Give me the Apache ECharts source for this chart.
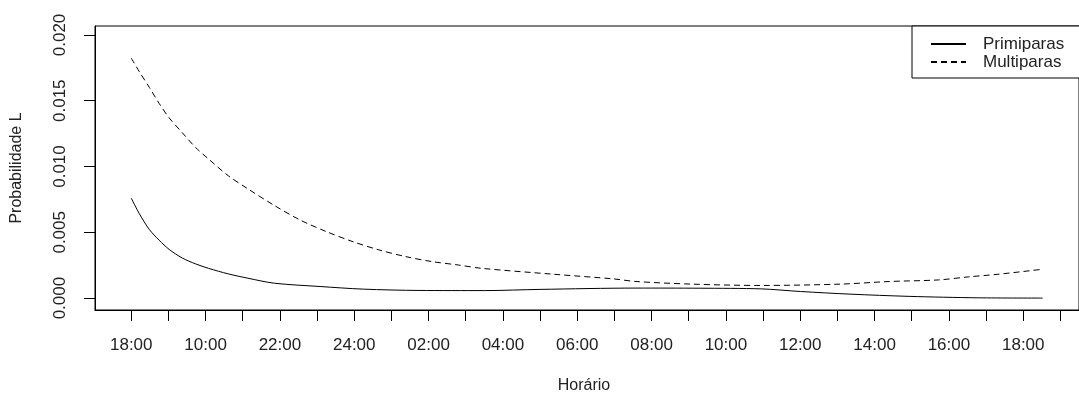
<!DOCTYPE html>
<html>
<head>
<meta charset="utf-8">
<script src="https://cdn.jsdelivr.net/npm/echarts@6/dist/echarts.min.js"></script>
<style>
html,body{margin:0;padding:0;background:#fff;}
#chart{width:1079px;height:399px;}
</style>
</head>
<body>
<div id="chart"></div>
<script>
// x positions are in "tick units" along the time axis (one tick per unit)
var timeLabels = ['18:00','10:00','22:00','24:00','02:00','04:00','06:00','08:00','10:00','12:00','14:00','16:00','18:00'];
var tickPositions = [0,1,2,3,4,5,6,7,8,9,10,11,12,13,14,15,16,17,18,19,20,21,22,23,24,25];
var labelPositions = [0,2,4,6,8,10,12,14,16,18,20,22,24];
var yTicks = [0, 0.005, 0.010, 0.015, 0.020];

var primX = [0, 0.22, 0.49, 0.75, 1.02, 1.37, 1.73, 2.08, 2.61, 3.14, 3.85, 5.08, 6.24, 7.74, 9.51, 11.0, 13.58, 15.30, 16.95, 18.01, 19.34, 20.93, 22.79, 24.52];
var primY = [0.0076, 0.0064, 0.0052, 0.0044, 0.0037, 0.00305, 0.0026, 0.00226, 0.00184, 0.00151, 0.00113, 0.00088, 0.00068, 0.00058, 0.00057, 0.00066, 0.00076, 0.00075, 0.0007, 0.0005, 0.0003, 0.00013, 0.00002, 0.0];

var multX = [0, 0.22, 0.49, 0.75, 1.02, 1.37, 1.73, 2.08, 2.61, 3.14, 3.85, 4.56, 5.27, 5.97, 6.68, 7.39, 8.10, 8.81, 9.43, 11.37, 12.97, 13.58, 15.09, 16.95, 19.08, 20.40, 21.72, 22.52, 23.32, 24.52];
var multY = [0.01824, 0.0172, 0.0160, 0.0148, 0.0137, 0.01258, 0.01145, 0.01057, 0.0093, 0.0083, 0.00704, 0.00591, 0.00503, 0.00428, 0.00365, 0.00315, 0.00277, 0.00251, 0.00226, 0.00181, 0.00146, 0.00126, 0.00106, 0.00096, 0.00106, 0.00126, 0.00138, 0.00161, 0.00181, 0.00219];

function pairs(xs, ys){ return xs.map(function(x,i){ return [x, ys[i]]; }); }

var FONT = '"Liberation Sans", Arial, sans-serif';
var chart = echarts.init(document.getElementById('chart'), null, {renderer:'canvas'});
chart.setOption({
  animation: false,
  backgroundColor: '#fff',
  grid: {left: 95, right: -13, top: 26, bottom: 87, show: true, borderColor: '#000', borderWidth: 1, containLabel: false},
  legend: {
    left: 912, top: 26, orient: 'vertical',
    data: ['Primiparas', 'Multiparas'],
    borderColor: '#000', borderWidth: 1, borderRadius: 0,
    padding: [9, 20, 7, 18],
    itemWidth: 35, itemHeight: 12, itemGap: 0,
    itemStyle: {opacity: 0},
    textStyle: {fontFamily: FONT, fontSize: 17, color: '#222', lineHeight: 18, padding: [0, 0, 0, 12]},
    backgroundColor: '#fff'
  },
  xAxis: {
    type: 'value', min: -0.975, max: 25.5,
    name: 'Horário', nameLocation: 'middle', nameGap: 68,
    nameTextStyle: {fontFamily: FONT, fontSize: 16, color: '#222', padding: [0, 6, 0, 0]},
    axisLine: {show: true, onZero: false, lineStyle: {color: '#000', width: 1}},
    axisTick: {show: true, inside: false, length: 11, lineStyle: {color: '#000'}, customValues: tickPositions},
    axisLabel: {
      show: true, margin: 27, fontFamily: FONT, fontSize: 17, color: '#222',
      customValues: labelPositions,
      formatter: function(v){ var i = Math.round(v/2); return timeLabels[i] || ''; }
    },
    splitLine: {show: false}
  },
  yAxis: {
    type: 'value', min: -0.000906, max: 0.02068,
    name: 'Probabilidade L', nameLocation: 'middle', nameGap: 70, nameRotate: 90,
    nameTextStyle: {fontFamily: FONT, fontSize: 16, color: '#222'},
    axisLine: {show: true, onZero: false, lineStyle: {color: '#000', width: 1}},
    axisTick: {show: true, inside: false, length: 11, lineStyle: {color: '#000'}, customValues: yTicks},
    axisLabel: {
      show: true, rotate: 90, margin: 26, fontFamily: FONT, fontSize: 17, color: '#222',
      customValues: yTicks,
      formatter: function(v){ return v.toFixed(3); }
    },
    splitLine: {show: false}
  },
  series: [
    {name: 'Primiparas', type: 'line', data: pairs(primX, primY), symbol: 'none', smooth: 0.3,
     lineStyle: {color: '#000', width: 1, type: 'solid'}, itemStyle: {color: '#000'}},
    {name: 'Multiparas', type: 'line', data: pairs(multX, multY), symbol: 'none', smooth: 0.3,
     lineStyle: {color: '#000', width: 1, type: [6, 4]}, itemStyle: {color: '#000'}}
  ]
});
</script>
</body>
</html>
